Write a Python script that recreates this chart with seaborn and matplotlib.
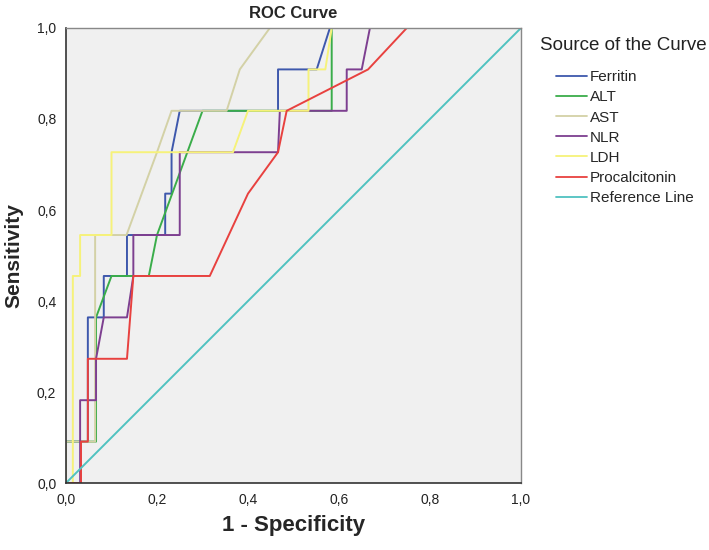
import pandas as pd
import matplotlib
matplotlib.use("Agg")
import matplotlib.pyplot as plt
import seaborn as sns

# ROC curve points (1 - specificity, sensitivity)
ferritin_x = [0, 0, 0.048, 0.048, 0.083, 0.083, 0.1, 0.134, 0.134, 0.218, 0.218, 0.232, 0.232, 0.25, 0.466, 0.466, 0.551, 0.58, 1]
ferritin_y = [0, 0.091, 0.091, 0.364, 0.364, 0.455, 0.455, 0.455, 0.545, 0.545, 0.636, 0.636, 0.727, 0.818, 0.818, 0.909, 0.909, 1, 1]

alt_x = [0, 0, 0.066, 0.066, 0.1, 0.182, 0.2, 0.3, 0.584, 0.584, 1]
alt_y = [0, 0.091, 0.091, 0.364, 0.455, 0.455, 0.545, 0.818, 0.818, 1, 1]

ast_x = [0, 0, 0.064, 0.064, 0.133, 0.2, 0.232, 0.353, 0.382, 0.448, 1]
ast_y = [0, 0.091, 0.091, 0.545, 0.545, 0.727, 0.818, 0.818, 0.909, 1, 1]

nlr_x = [0, 0.031, 0.031, 0.066, 0.066, 0.083, 0.134, 0.148, 0.148, 0.25, 0.25, 0.466, 0.47, 0.617, 0.617, 0.65, 0.668, 1]
nlr_y = [0, 0, 0.182, 0.182, 0.273, 0.364, 0.364, 0.455, 0.545, 0.545, 0.727, 0.727, 0.818, 0.818, 0.909, 0.909, 1, 1]

ldh_x = [0, 0.015, 0.015, 0.031, 0.031, 0.1, 0.1, 0.367, 0.4, 0.533, 0.533, 0.57, 0.584, 1]
ldh_y = [0, 0, 0.455, 0.455, 0.545, 0.545, 0.727, 0.727, 0.818, 0.818, 0.909, 0.909, 1, 1]

pct_x = [0, 0.033, 0.033, 0.048, 0.048, 0.134, 0.148, 0.316, 0.4, 0.466, 0.485, 0.664, 0.749, 1]
pct_y = [0, 0, 0.091, 0.091, 0.273, 0.273, 0.455, 0.455, 0.636, 0.727, 0.818, 0.909, 1, 1]

ref_x = [0, 1]
ref_y = [0, 1]

curves = ["Ferritin", "ALT", "AST", "NLR", "LDH", "Procalcitonin", "Reference Line"]
colors = ["#3e58ac", "#3aad4a", "#d3d1a6", "#7d3f90", "#f6f27a", "#e8413f", "#4fc2c0"]

frames = []
for name, xs, ys in zip(curves,
                        [ferritin_x, alt_x, ast_x, nlr_x, ldh_x, pct_x, ref_x],
                        [ferritin_y, alt_y, ast_y, nlr_y, ldh_y, pct_y, ref_y]):
    frames.append(pd.DataFrame({"fpr": xs, "tpr": ys, "curve": name}))
df = pd.concat(frames, ignore_index=True)

sns.set_style("white")
plt.rcParams["font.family"] = ["Liberation Sans", "DejaVu Sans"]

fig = plt.figure(figsize=(7.09, 5.5), dpi=100)
ax = fig.add_axes([0.0931, 0.1218, 0.6417, 0.8273])
ax.set_facecolor("#f0f0f0")

sns.lineplot(data=df, x="fpr", y="tpr", hue="curve", hue_order=curves,
             palette=colors, estimator=None, sort=False, linewidth=1.4, ax=ax)

ax.set_xlim(0, 1)
ax.set_ylim(0, 1)
ticks = [0, 0.2, 0.4, 0.6, 0.8, 1.0]
labels = [f"{t:.1f}".replace(".", ",") for t in ticks]
ax.set_xticks(ticks)
ax.set_xticklabels(labels, fontsize=10)
ax.set_yticks(ticks)
ax.set_yticklabels(labels, fontsize=10)
ax.tick_params(axis="both", direction="out", length=5, width=1, color="#444444",
               labelcolor="#222222", pad=2)

for side in ["left", "bottom"]:
    ax.spines[side].set_color("#333333")
    ax.spines[side].set_linewidth(1.2)
for side in ["top", "right"]:
    ax.spines[side].set_color("#888888")
    ax.spines[side].set_linewidth(1.0)

ax.set_title("ROC Curve", fontsize=12, fontweight="bold", pad=7)
ax.set_xlabel("1 - Specificity", fontsize=16, fontweight="bold", labelpad=6)
ax.set_ylabel("Sensitivity", fontsize=15, fontweight="bold", labelpad=10)

# legend title sits to the left of the indented entries
fig.text(540 / 709, 1 - 45 / 550, "Source of the Curve", fontsize=13.5,
         va="center", ha="left", color="#222222")
leg = ax.legend(loc="upper left", bbox_to_anchor=(1.077, 0.907), frameon=False,
                fontsize=11, handlelength=2.0, handletextpad=0.2,
                labelspacing=0.4, borderaxespad=0, borderpad=0)
for line in leg.get_lines():
    line.set_linewidth(1.3)

fig.savefig("out.png", dpi=100)
